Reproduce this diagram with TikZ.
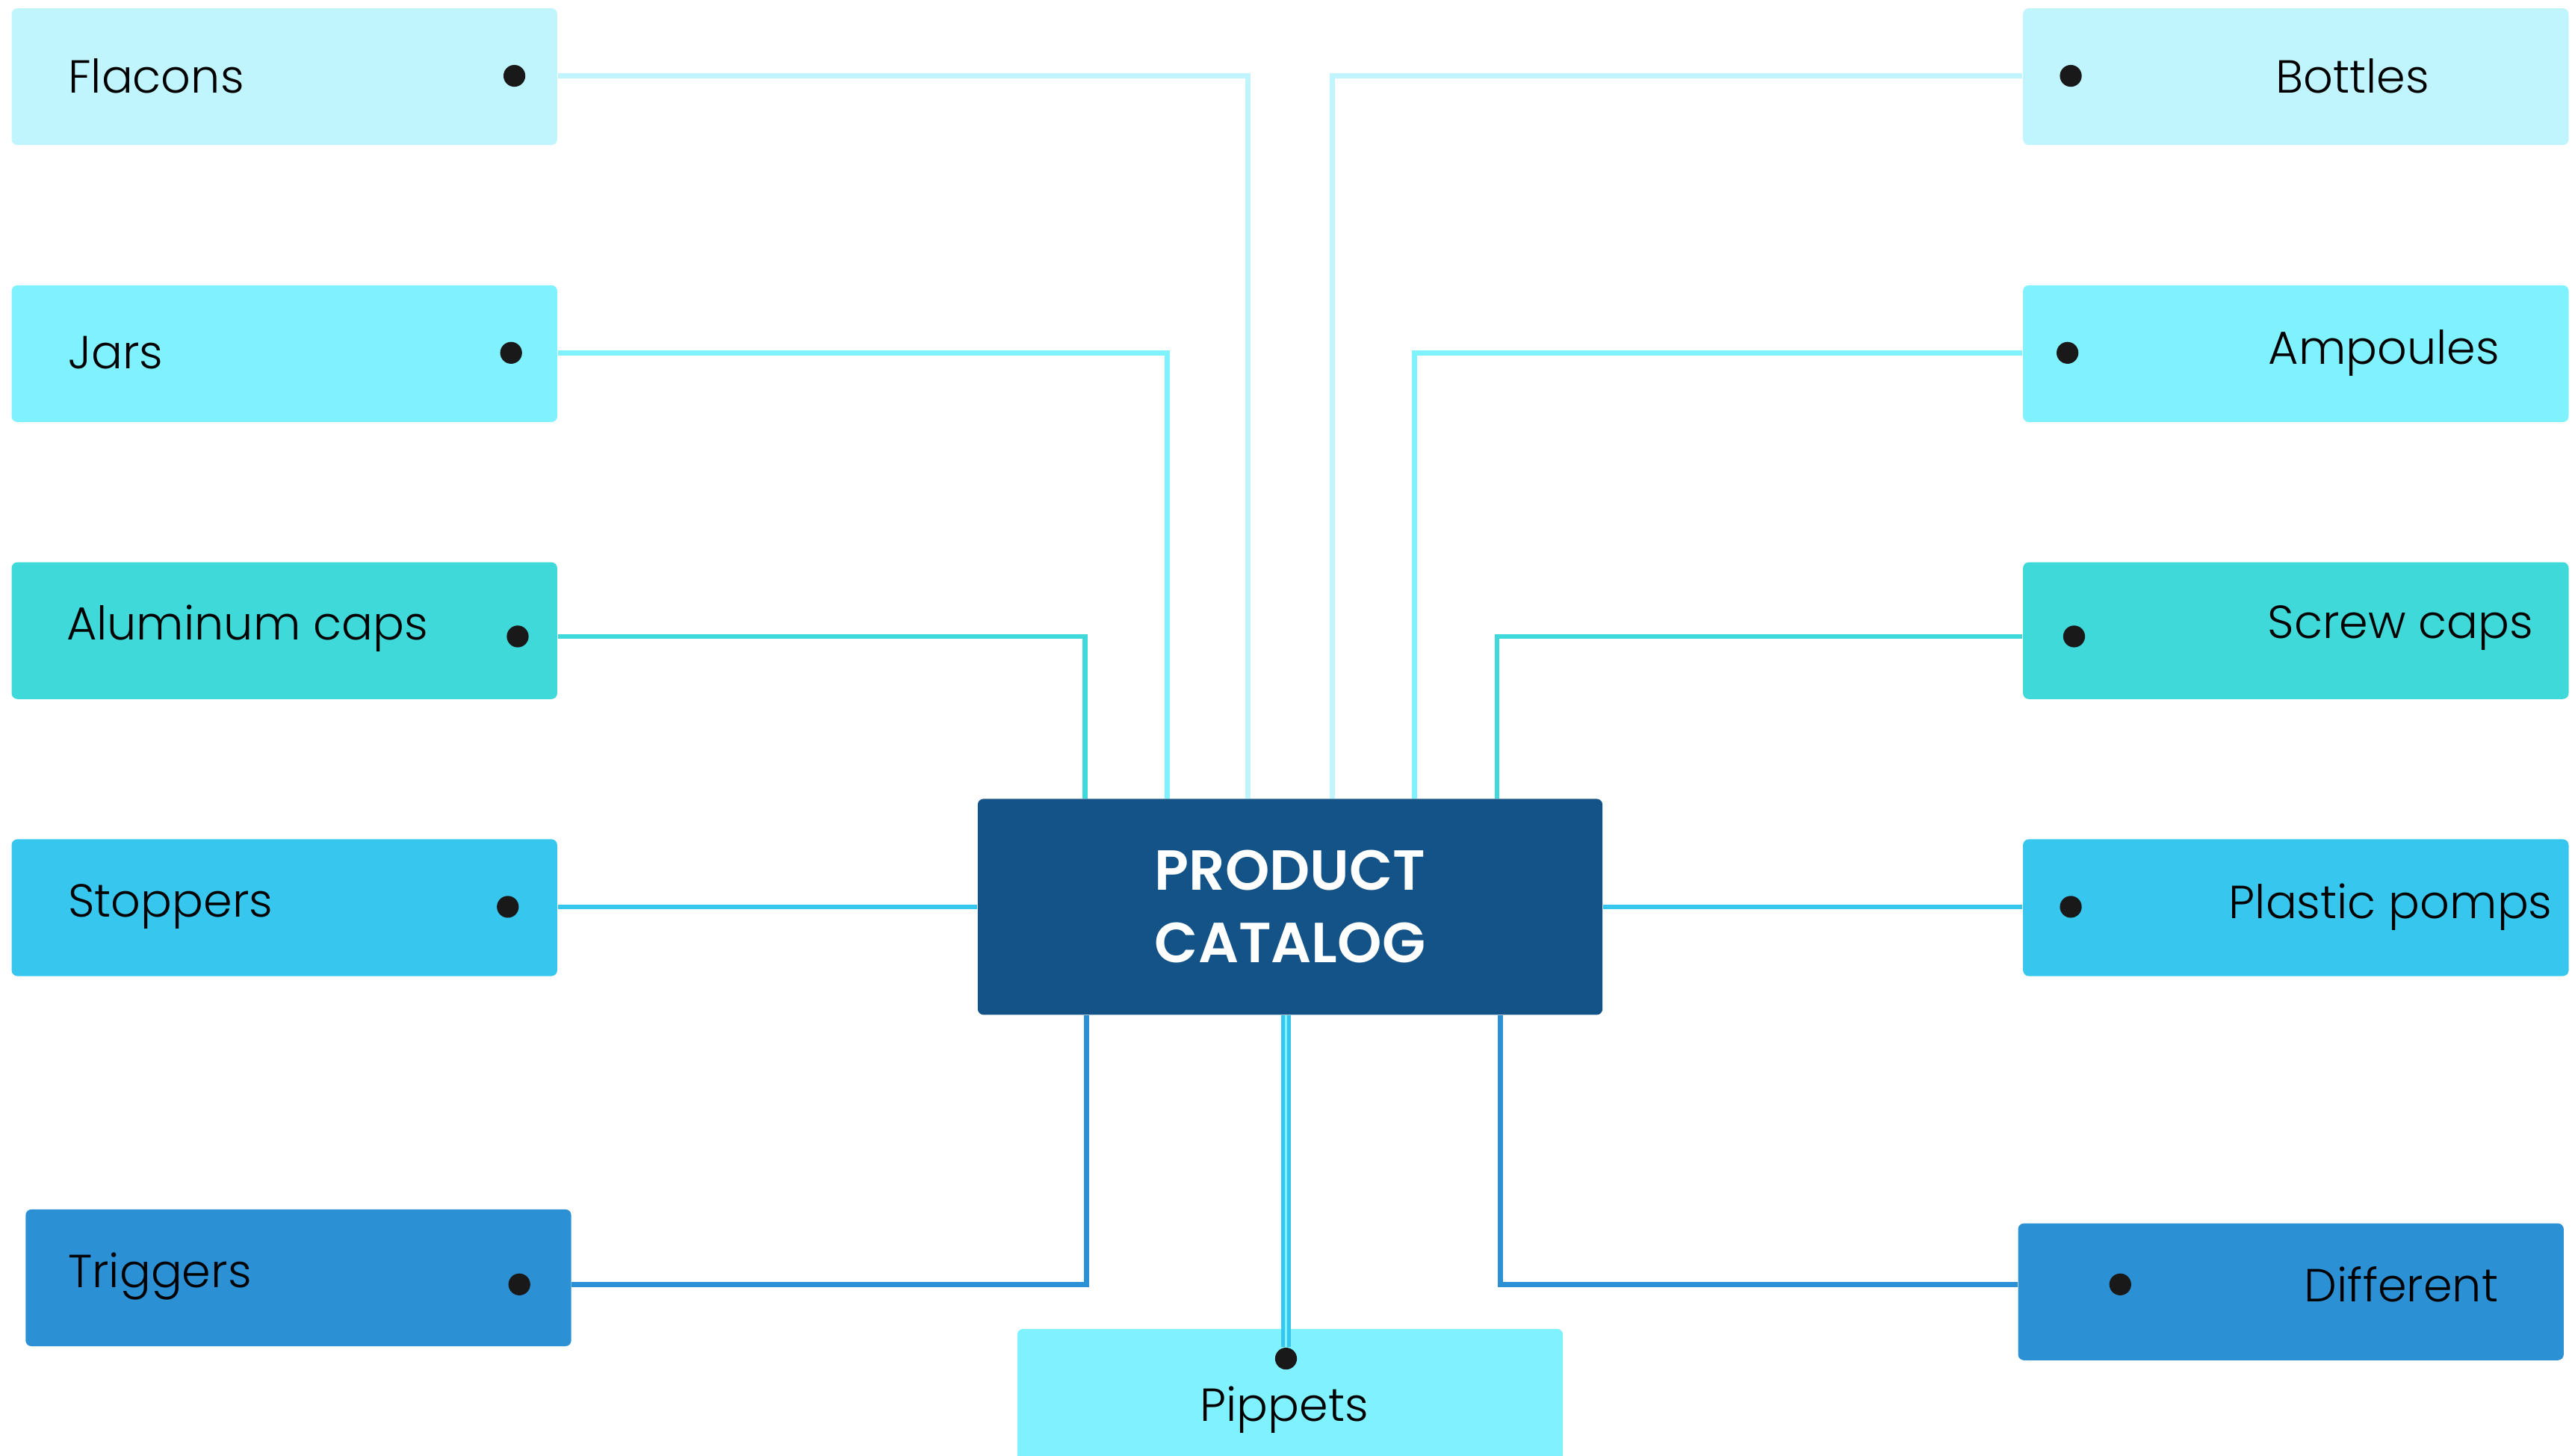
\documentclass[tikz,border=0pt]{standalone}
\usepackage{fontspec}
\setmainfont{Poppins}[UprightFont=* Light, BoldFont=* SemiBold]
\usetikzlibrary{arrows}
\definecolor{pale}{HTML}{C0F5FE}
\definecolor{sky}{HTML}{80F1FE}
\definecolor{turq}{HTML}{3FD9D9}
\definecolor{azure}{HTML}{37C7EE}
\definecolor{deep}{HTML}{2B90D4}
\definecolor{navy}{HTML}{135387}
\tikzset{>=latex, itembox/.style = {rectangle, rounded corners=2pt, inner sep=0pt,
        minimum width=6.62cm, minimum height=1.66cm},%
    hub/.style = {rectangle, rounded corners=2pt, fill=navy, text=white, align=center,
        minimum width=7.58cm, minimum height=2.62cm,
        font=\bfseries\fontsize{19.5}{25}\selectfont},%
    bullet/.style = {circle, fill=black!90, inner sep=0pt, minimum size=0.265cm},%
    lbl/.style = {inner sep=0pt, font=\fontsize{16}{20}\selectfont},%
    wire/.style = {line width=0.06cm}}

\begin{document}
\begin{tikzpicture}[x=0.02cm,y=-0.02cm]
    \useasboundingbox (0,0) rectangle (1560,883);
    % hub
    \node[hub] (catalog) at (782.5,550) {PRODUCT\\CATALOG};
    % left column
    \node[itembox, fill=pale] (flacons) at (172.5,46.5) {};
    \node[itembox, fill=sky] (jars) at (172.5,214.5) {};
    \node[itembox, fill=turq] (alucaps) at (172.5,382.5) {};
    \node[itembox, fill=azure] (stoppers) at (172.5,550.5) {};
    \node[itembox, fill=deep] (triggers) at (181,775) {};
    \node[lbl, anchor=west] (flaconslbl) at (41,46) {Flacons};
    \node[lbl, anchor=west] (jarslbl) at (41,214) {Jars};
    \node[lbl, anchor=west] (alucapslbl) at (40,381) {Aluminum caps};
    \node[lbl, anchor=west] (stopperslbl) at (41,550) {Stoppers};
    \node[lbl, anchor=west] (triggerslbl) at (41,774) {Triggers};
    \node[bullet] (flaconsdot) at (312,46) {};
    \node[bullet] (jarsdot) at (310,214) {};
    \node[bullet] (alucapsdot) at (314,386) {};
    \node[bullet] (stoppersdot) at (308,550) {};
    \node[bullet] (triggersdot) at (315,779) {};
    % right column
    \node[itembox, fill=pale] (bottles) at (1392.5,46.5) {};
    \node[itembox, fill=sky] (ampoules) at (1392.5,214.5) {};
    \node[itembox, fill=turq] (screwcaps) at (1392.5,382.5) {};
    \node[itembox, fill=azure] (pomps) at (1392.5,550.5) {};
    \node[itembox, fill=deep] (different) at (1389.5,783.5) {};
    \node[lbl] (bottleslbl) at (1427,46) {Bottles};
    \node[lbl] (ampouleslbl) at (1446,214) {Ampoules};
    \node[lbl] (screwcapslbl) at (1456,381) {Screw caps};
    \node[lbl] (pompslbl) at (1450,550) {Plastic pomps};
    \node[lbl] (differentlbl) at (1456.5,779) {Different};
    \node[bullet] (bottlesdot) at (1256,46) {};
    \node[bullet] (ampoulesdot) at (1254,214) {};
    \node[bullet] (screwcapsdot) at (1258,386) {};
    \node[bullet] (pompsdot) at (1256,550) {};
    \node[bullet] (differentdot) at (1286,779) {};
    % bottom
    \node[itembox, fill=sky] (pippets) at (782.5,847.5) {};
    \node[lbl] (pippetslbl) at (779,855) {Pippets};
    \node[bullet] (pippetsdot) at (780,824) {};
    % wires
    \draw[wire, pale] (flacons.east |- flaconsdot) -| (catalog.north -| 757,0);
    \draw[wire, sky] (jars.east |- jarsdot) -| (catalog.north -| 708,0);
    \draw[wire, turq] (alucaps.east |- alucapsdot) -| (catalog.north -| 658,0);
    \draw[wire, azure] (stoppers.east |- stoppersdot) -- (catalog.west |- stoppersdot);
    \draw[wire, deep] (triggers.east |- triggersdot) -| (catalog.south -| 659,0);
    \draw[wire, pale] (bottles.west |- bottlesdot) -| (catalog.north -| 808,0);
    \draw[wire, sky] (ampoules.west |- ampoulesdot) -| (catalog.north -| 858,0);
    \draw[wire, turq] (screwcaps.west |- screwcapsdot) -| (catalog.north -| 908,0);
    \draw[wire, azure] (pomps.west |- pompsdot) -- (catalog.east |- pompsdot);
    \draw[wire, deep] (different.west |- differentdot) -| (catalog.south -| 910,0);
    \draw[line width=0.04cm, draw=azure, double=sky, double distance=0.03cm]
        (catalog.south -| pippetsdot) -- (pippetsdot.north);
\end{tikzpicture}
\end{document}
